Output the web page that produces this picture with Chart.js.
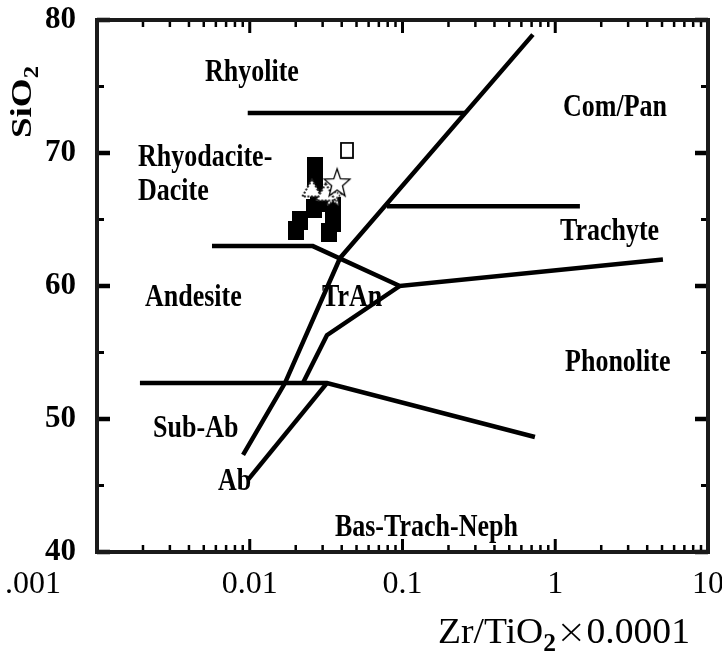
<!DOCTYPE html>
<html><head><meta charset="utf-8">
<script src="https://cdn.jsdelivr.net/npm/chart.js@4.4.1/dist/chart.umd.min.js"></script>
<style>html,body{margin:0;padding:0;background:#fff}</style>
</head><body>
<canvas id="c" width="722" height="652"></canvas>
<script>
// ---- axis ticks ----
const X_TICKS = [0.001, 0.01, 0.1, 1, 10];
const X_TICK_LABELS = ['.001', '0.01', '0.1', '1', '10'];
const Y_TICKS = [40, 50, 60, 70, 80];

// ---- field boundaries (Zr/TiO2*0.0001, SiO2) ----
const bndRhyolite = [{x:0.0097,y:73},{x:0.258,y:73}];
const bndMain = [{x:0.714,y:78.9},{x:0.039,y:62.1},{x:0.017,y:52.7},{x:0.00904,y:47.3}];
const bndTrachyte = [{x:0.079,y:66},{x:1.45,y:66}];
const bndAndesite = [{x:0.00566,y:63},{x:0.0259,y:63},{x:0.096,y:60},{x:5.07,y:62}];
const bndTrAn = [{x:0.096,y:60},{x:0.032,y:56.3},{x:0.0223,y:52.7}];
const bndSubAb = [{x:0.00191,y:52.7},{x:0.032,y:52.7},{x:0.736,y:48.65}];
const bndAb = [{x:0.032,y:52.7},{x:0.0097,y:45.4}];

// ---- samples ----
const filledSquares = [
  {x:0.0267,y:68.95},{x:0.0267,y:67.6},{x:0.0280,y:66.3},{x:0.02634,y:65.86},
  {x:0.0351,y:66.0},{x:0.0351,y:64.8},{x:0.0330,y:64.06},{x:0.02133,y:64.9},{x:0.02009,y:64.14}
];
const openSquares = [{x:0.0433,y:70.2}];
const triangles = [{x:0.0255,y:67.37},{x:0.0314,y:67.07}];
const openStars = [{x:0.0373,y:67.8}];
const hatchedStars = [{x:0.0351,y:66.8}];

// ---- field names ----
const regionNames = ['Rhyolite','Com/Pan','Rhyodacite-','Dacite','Trachyte','Andesite','TrAn','Phonolite','Sub-Ab','Ab','Bas-Trach-Neph'];
const regionX = [0.00509, 1.124, 0.001855, 0.001855, 1.074, 0.00206, 0.0297, 1.159, 0.00233, 0.00619, 0.0361];
const regionY = [76.0, 73.4, 69.6, 67.1, 64.06, 59.1, 59.1, 54.2, 49.25, 45.3, 41.8];

const FONT = "'Liberation Serif', 'Times New Roman', serif";

// ---- marker images ----
function mk(w, h, fn){ const c=document.createElement('canvas'); c.width=w; c.height=h; fn(c.getContext('2d'), w, h); return c; }
const imgFilledSq = mk(16, 19, (g,w,h)=>{ g.fillStyle='#000'; g.fillRect(0,0,w,h); });
const imgOpenSq = mk(14, 17, (g,w,h)=>{ g.fillStyle='#fff'; g.fillRect(0,0,w,h); g.strokeStyle='#000'; g.lineWidth=1.8; g.strokeRect(1,1,w-2,h-2); });
const imgTri = mk(22, 20, (g,w,h)=>{ g.beginPath(); g.moveTo(w/2,1.5); g.lineTo(w-1.5,h-1.5); g.lineTo(1.5,h-1.5); g.closePath(); g.fillStyle='#fff'; g.fill(); g.setLineDash([2,1.5]); g.lineWidth=2; g.strokeStyle='#222'; g.stroke(); });
function starPath(g, cx, cy, rx, ry){
  g.beginPath();
  for (let i=0;i<10;i++){
    const a = -Math.PI/2 + i*Math.PI/5; const k = (i%2===0)?1:0.42;
    const px = cx + Math.cos(a)*rx*k, py = cy + Math.sin(a)*ry*k;
    if(i===0) g.moveTo(px,py); else g.lineTo(px,py);
  }
  g.closePath();
}
const imgStar = mk(30, 32, (g,w,h)=>{ starPath(g, w/2, h/2+1.5, 13.5, 15); g.fillStyle='#fff'; g.fill(); g.lineWidth=1.3; g.strokeStyle='#000'; g.stroke(); });
const imgStarH = mk(22, 24, (g,w,h)=>{ starPath(g, w/2, h/2+1, 10, 11); g.fillStyle='#fff'; g.fill(); g.setLineDash([1.6,1.4]); g.lineWidth=1.8; g.strokeStyle='#222'; g.stroke(); });

function lineDS(data){ return {type:'scatter', data, showLine:true, borderColor:'#000', borderWidth:4.5, pointRadius:0, fill:false, tension:0, order:10, borderJoinStyle:'miter'}; }
function ptDS(data, img, order){ return {type:'scatter', data, pointStyle:img, pointRadius:9, showLine:false, order}; }

const drawPlugin = {
  id:'deco',
  afterDatasetsDraw(chart){
    const {ctx, chartArea:a, scales:{x, y}} = chart;
    ctx.save();
    ctx.strokeStyle = '#000'; ctx.lineCap = 'butt';
    // y ticks (left & right, inward)
    for (let v=40; v<=80; v+=5){
      const py = y.getPixelForValue(v); const major = (v%10===0);
      const len = major ? 13 : 7; ctx.lineWidth = major ? 4.5 : 3;
      ctx.beginPath(); ctx.moveTo(a.left, py); ctx.lineTo(a.left+len, py);
      ctx.moveTo(a.right, py); ctx.lineTo(a.right-len, py); ctx.stroke();
    }
    // x ticks (bottom & top, inward)
    for (let e=-3; e<1; e++){
      for (let m=1; m<=9; m++){
        const v = m*Math.pow(10,e); const px = x.getPixelForValue(v);
        const major = (m===1); const len = major ? 13 : 7; ctx.lineWidth = major ? 3 : 2.5;
        ctx.beginPath(); ctx.moveTo(px, a.bottom); ctx.lineTo(px, a.bottom-len);
        ctx.moveTo(px, a.top); ctx.lineTo(px, a.top+len); ctx.stroke();
      }
    }
    // frame
    ctx.lineWidth = 4; ctx.strokeStyle = '#1a1a1a';
    ctx.strokeRect(a.left, a.top, a.right-a.left, a.bottom-a.top);
    // field names
    ctx.fillStyle = '#000'; ctx.textAlign = 'left'; ctx.textBaseline = 'middle';
    ctx.font = "bold 26px " + FONT;
    for (let i=0;i<regionNames.length;i++){
      const px = x.getPixelForValue(regionX[i]), py = y.getPixelForValue(regionY[i]);
      ctx.save(); ctx.translate(px, py); ctx.scale(1, 1.2); ctx.fillText(regionNames[i], 0, 0); ctx.restore();
    }
    // y title SiO2 (rotated, with subscript)
    ctx.textBaseline = 'alphabetic';
    const fMain = "bold 30px " + FONT, fSub = "bold 20px " + FONT;
    ctx.font = fMain; const w1 = ctx.measureText('SiO').width; ctx.font = fSub; const w2 = ctx.measureText('2').width;
    ctx.save(); ctx.translate(31, 138); ctx.rotate(-Math.PI/2); ctx.scale(72/(w1+w2), 1);
    ctx.font = fMain; ctx.fillText('SiO', 0, 0); ctx.font = fSub; ctx.fillText('2', w1, 7); ctx.restore();
    // x title
    const fx = "31px " + FONT, fxs = "bold 21px " + FONT, fxx = "200 30px 'DejaVu Sans', " + FONT;
    const parts = [['Zr/TiO', fx, 0], ['2', fxs, 7], ['\u00D7', fxx, 0], ['0.0001', fx, 0]];
    let tot = 0; const ws = parts.map(p=>{ ctx.font=p[1]; const w=ctx.measureText(p[0]).width; tot+=w; return w; });
    ctx.save(); ctx.translate(438, 643); ctx.scale(252/tot, 1.15);
    let cx = 0; parts.forEach((p,i)=>{ ctx.font=p[1]; ctx.fillText(p[0], cx, p[2]); cx += ws[i]; });
    ctx.restore();
    ctx.restore();
  }
};

new Chart(document.getElementById('c'), {
  type:'scatter',
  data:{ datasets:[
    ptDS(openStars, imgStar, 0),
    ptDS(openSquares, imgOpenSq, 0),
    ptDS(triangles, imgTri, 1),
    ptDS(hatchedStars, imgStarH, 1),
    ptDS(filledSquares, imgFilledSq, 2),
    lineDS(bndRhyolite), lineDS(bndMain), lineDS(bndTrachyte), lineDS(bndAndesite),
    lineDS(bndTrAn), lineDS(bndSubAb), lineDS(bndAb)
  ]},
  options:{
    responsive:false, animation:false, devicePixelRatio:1,
    layout:{ padding:{ left:0, right:14, top:20, bottom:0 } },
    plugins:{ legend:{display:false}, tooltip:{enabled:false} },
    scales:{
      x:{ type:'logarithmic', min:0.001, max:10,
        grid:{display:false, drawTicks:false}, border:{display:false},
        afterBuildTicks:(s)=>{ s.ticks = X_TICKS.map(v=>({value:v})); },
        afterFit:(s)=>{ s.height = 100; s.paddingLeft = 0; s.paddingRight = 0; },
        ticks:{ autoSkip:false, maxRotation:0, padding:13, color:'#000',
          font:{ family:FONT, size:32 },
          callback:(v)=>{ const i = X_TICKS.findIndex(t=>Math.abs(t-v)/t<1e-6); if (i<0) return ''; return i===0 ? X_TICK_LABELS[0] + '                ' : X_TICK_LABELS[i]; } }
      },
      y:{ type:'linear', min:40, max:80,
        grid:{display:false, drawTicks:false}, border:{display:false},
        afterBuildTicks:(s)=>{ s.ticks = Y_TICKS.map(v=>({value:v})); },
        afterFit:(s)=>{ s.width = 97; s.paddingTop = 0; s.paddingBottom = 0; },
        ticks:{ padding:21, color:'#000', font:{ family:FONT, size:31, weight:'bold' } }
      }
    }
  },
  plugins:[drawPlugin]
});
</script>
</body></html>
